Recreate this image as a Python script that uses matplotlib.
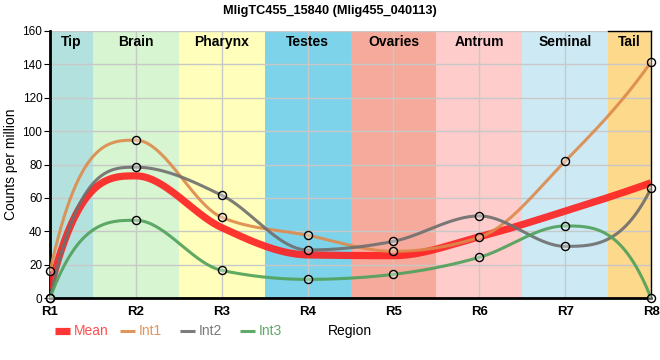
import numpy as np
import matplotlib
matplotlib.use('Agg')
import matplotlib.pyplot as plt
from matplotlib.colors import to_rgba
from matplotlib.lines import Line2D

plt.rcParams['font.family'] = ['Liberation Sans', 'DejaVu Sans']

regions = ['R1', 'R2', 'R3', 'R4', 'R5', 'R6', 'R7', 'R8']
int1 = [16, 94.6, 48.4, 37.6, 28.0, 36.4, 82.0, 141.4]
int2 = [0, 78.4, 61.6, 28.8, 34.0, 49.2, 31.0, 65.8]
int3 = [0, 46.6, 16.6, 11.2, 14.2, 24.4, 43.2, 0]
tissues = ['Tip', 'Brain', 'Pharynx', 'Testes', 'Ovaries', 'Antrum', 'Seminal', 'Tail']
tissue_colors = ['#b3e2de', '#d7f5d0', '#ffffbb', '#7dd3ea', '#f5aa9c',
                 '#ffcccc', '#cdeaf4', '#fdd98b']


def smooth(y, n=60):
    # monotone cubic through the points, steep end tangents
    y = np.asarray(y, dtype=float)
    s = np.diff(y)
    m = len(y)
    t = np.zeros(m)
    for i in range(1, m - 1):
        s0, s1 = s[i - 1], s[i]
        p = (s0 + s1) / 2
        t[i] = (np.sign(s0) + np.sign(s1)) * min(abs(s0), abs(s1), 0.5 * abs(p))
    for e, a, sl in [(0, 1, s[0]), (m - 1, m - 2, s[-1])]:
        v = 3 * sl - 2 * t[a]
        if np.sign(v) != np.sign(sl):
            v = 0
        t[e] = v
    xs, ys = [], []
    for i in range(m - 1):
        u = np.linspace(0, 1, n, endpoint=(i == m - 2))
        h00 = 2 * u**3 - 3 * u**2 + 1
        h10 = u**3 - 2 * u**2 + u
        h01 = -2 * u**3 + 3 * u**2
        h11 = u**3 - u**2
        xs.append(i + 1 + u)
        ys.append(h00 * y[i] + h10 * t[i] + h01 * y[i + 1] + h11 * t[i + 1])
    return np.concatenate(xs), np.concatenate(ys)


x = np.arange(1, len(regions) + 1)
mean = (np.array(int1) + np.array(int2) + np.array(int3)) / 3

fig = plt.figure(figsize=(6.6, 3.6), dpi=100)
ax = fig.add_axes([0.0758, 0.172, 0.9106, 0.742])
ax.set_xlim(1, 8)
ax.set_ylim(0, 160)

for i, (name, col) in enumerate(zip(tissues, tissue_colors)):
    lo = max(1, i + 0.5)
    hi = min(8, i + 1.5)
    ax.axvspan(lo, hi, color=col, zorder=0, lw=0)
    ax.text((lo + hi) / 2, 153.5, name, ha='center', va='center',
            fontsize=10, fontweight='bold', zorder=5)
ax.plot([7.5, 8], [160, 160], color='black', lw=1, zorder=6, clip_on=False)

ax.set_yticks(np.arange(0, 161, 20))
ax.set_xticks(x)
ax.set_xticklabels(regions, fontweight='bold', fontsize=9.5)
ax.tick_params(axis='y', labelsize=8.5, length=4, pad=1.5)
ax.tick_params(axis='x', length=0, pad=6)
ax.grid(color='#c8c8c8', lw=1)
for g in ax.get_xgridlines() + ax.get_ygridlines():
    g.set_zorder(1)

ax.spines['top'].set_visible(False)
ax.spines['left'].set_linewidth(2)
ax.spines['bottom'].set_linewidth(2)
ax.spines['right'].set_linewidth(1)

series = [
    ('Mean', mean, '#ff2020', 5.2, False, '#ff5050'),
    ('Int1', int1, '#dd8a4c', 2.2, True, '#e0955c'),
    ('Int2', int2, '#6e6e6e', 2.2, True, '#7a7a7a'),
    ('Int3', int3, '#4fa05a', 2.2, True, '#5fa868'),
]
for name, vals, col, lw, mark, tcol in series:
    xs, ys = smooth(vals)
    ax.plot(xs, ys, color=col, lw=lw, alpha=0.9,
            zorder=3 if name == 'Mean' else 4, solid_capstyle='butt')
for name, vals, col, lw, mark, tcol in series:
    if mark:
        ax.plot(x, vals, 'o', ms=5.8, mfc=to_rgba('white', 0.35), mec='black',
                mew=1, zorder=7, clip_on=False)

# legend row under the axis
leg_x = [55, 120, 180, 240]
leg_y = 1 - 331 / 360
for (name, vals, col, lw, mark, tcol), lx in zip(series, leg_x):
    fig.add_artist(Line2D([lx / 660, (lx + 15) / 660], [leg_y, leg_y], color=col,
                          lw=lw, alpha=0.9, solid_capstyle='butt'))
    fig.text((lx + 19) / 660, leg_y, name, color=tcol, fontsize=10, va='center')
fig.text(350 / 660, leg_y, 'Region', fontsize=10, ha='center', va='center')

ax.set_ylabel('Counts per million', fontsize=10)
ax.yaxis.set_label_coords(-0.053, 0.5)
fig.suptitle('MligTC455_15840 (Mlig455_040113)', fontsize=9.2, fontweight='bold', y=0.985)

fig.savefig('out.png', dpi=100)
